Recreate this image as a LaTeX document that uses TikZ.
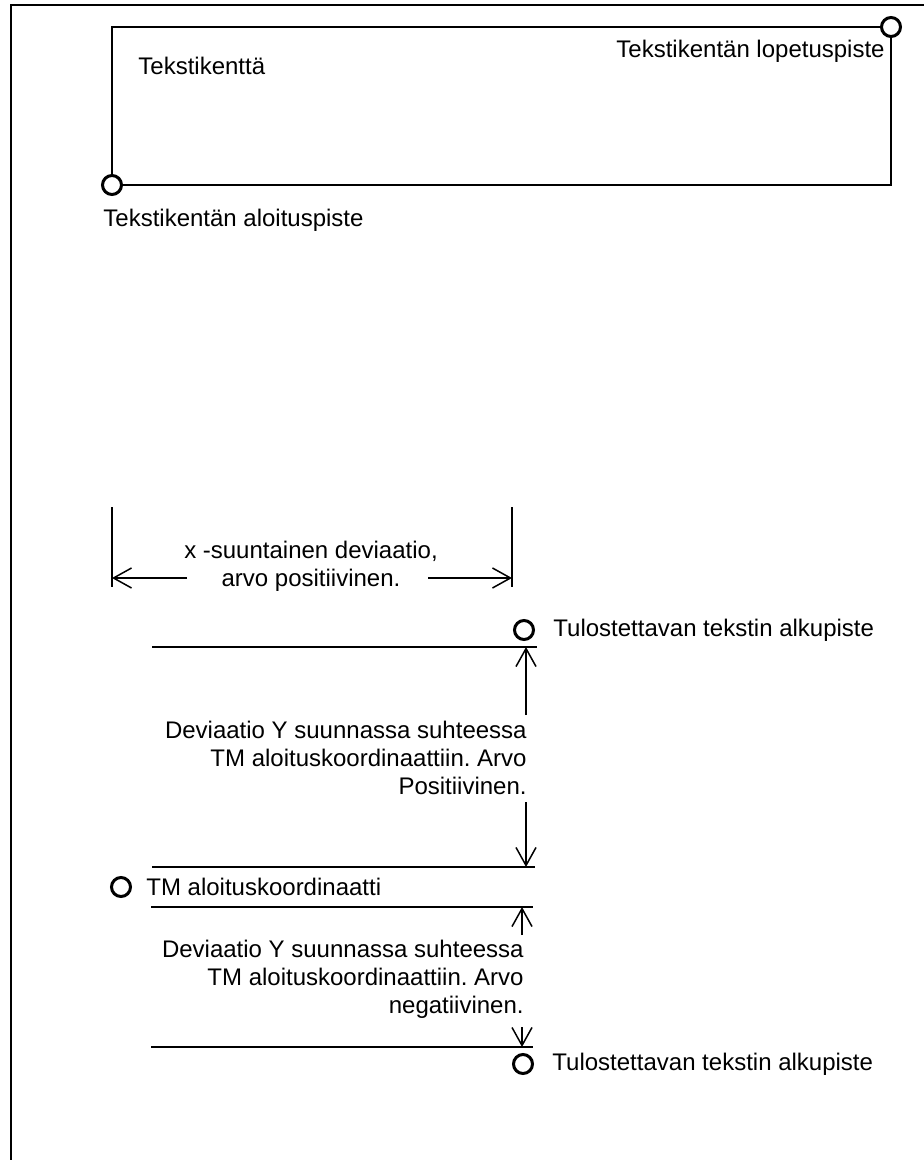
\documentclass[tikz,border=0pt]{standalone}
\usepackage{fontspec}
\setmainfont{Liberation Sans}
\usetikzlibrary{arrows.meta, positioning}
\frenchspacing

\begin{document}
\begin{tikzpicture}[
    x=0.5pt, y=-0.5pt,
    every node/.style={font=\fontsize{12}{13.9}\selectfont, inner sep=0pt},
    point/.style={circle, draw, line width=1.5pt, fill=white, minimum size=9.5pt},
    level/.style={line width=1pt},
    frameline/.style={line width=1pt},
    extline/.style={line width=0.75pt},
    dim/.style={-{Straight Barb[length=9pt, width=10pt]}, line width=0.75pt}
]
\useasboundingbox (0,0) rectangle (924,1160);
\draw[frameline] (924,5) -| (11,1160);

\node[point] (fstart) at (112,185) {};
\node[point] (fend) at (891,27) {};
\draw[frameline] (fstart) |- (fend);
\draw[frameline] (fstart) -| (fend);
\node[anchor=base west] (fieldlbl) at (138,75) {Tekstikenttä};
\node[anchor=base west] (startlbl) at (103,227) {Tekstikentän aloituspiste};
\node[anchor=base east] (endlbl) at (885,58) {Tekstikentän lopetuspiste};

\draw[extline] (112,507) -- (112,587);
\draw[extline] (512,507) -- (512,587);
\node[align=center, anchor=north] (xdev) at (311,541) {x -suuntainen deviaatio,\\arvo positiivinen.};
\coordinate (xla) at (187,578);
\coordinate (xlb) at (112,578);
\coordinate (xra) at (428,578);
\coordinate (xrb) at (512,578);
\draw[dim] (xla) -- (xlb);
\draw[dim] (xra) -- (xrb);

\node[point] (outA) at (524,630) {};
\node[right=9pt of outA] (outAlbl) {Tulostettavan tekstin alkupiste};
\draw[level] (152,647) -- (537,647);
\node[align=right, anchor=north east] (devpos) at (527,721) {Deviaatio Y suunnassa suhteessa\\TM aloituskoordinaattiin. Arvo\\Positiivinen.};
\coordinate (ya1) at (526,715);
\coordinate (ya2) at (526,647);
\coordinate (yb1) at (526,802);
\coordinate (yb2) at (526,867);
\draw[dim] (ya1) -- (ya2);
\draw[dim] (yb1) -- (yb2);
\draw[level] (152,867) -- (535,867);

\node[point] (tm) at (121,887) {};
\node[right=7pt of tm] (tmlbl) {TM aloituskoordinaatti};
\draw[level] (151,907) -- (533,907);
\node[align=right, anchor=north east] (devneg) at (524,940) {Deviaatio Y suunnassa suhteessa\\TM aloituskoordinaattiin. Arvo\\negatiivinen.};
\coordinate (yc1) at (522,935);
\coordinate (yc2) at (522,907);
\coordinate (yd1) at (522,1027);
\coordinate (yd2) at (522,1047);
\draw[dim] (yc1) -- (yc2);
\draw[dim] (yd1) -- (yd2);
\draw[level] (151,1047) -- (533,1047);

\node[point] (outB) at (523,1064) {};
\node[right=9pt of outB] (outBlbl) {Tulostettavan tekstin alkupiste};
\end{tikzpicture}
\end{document}
